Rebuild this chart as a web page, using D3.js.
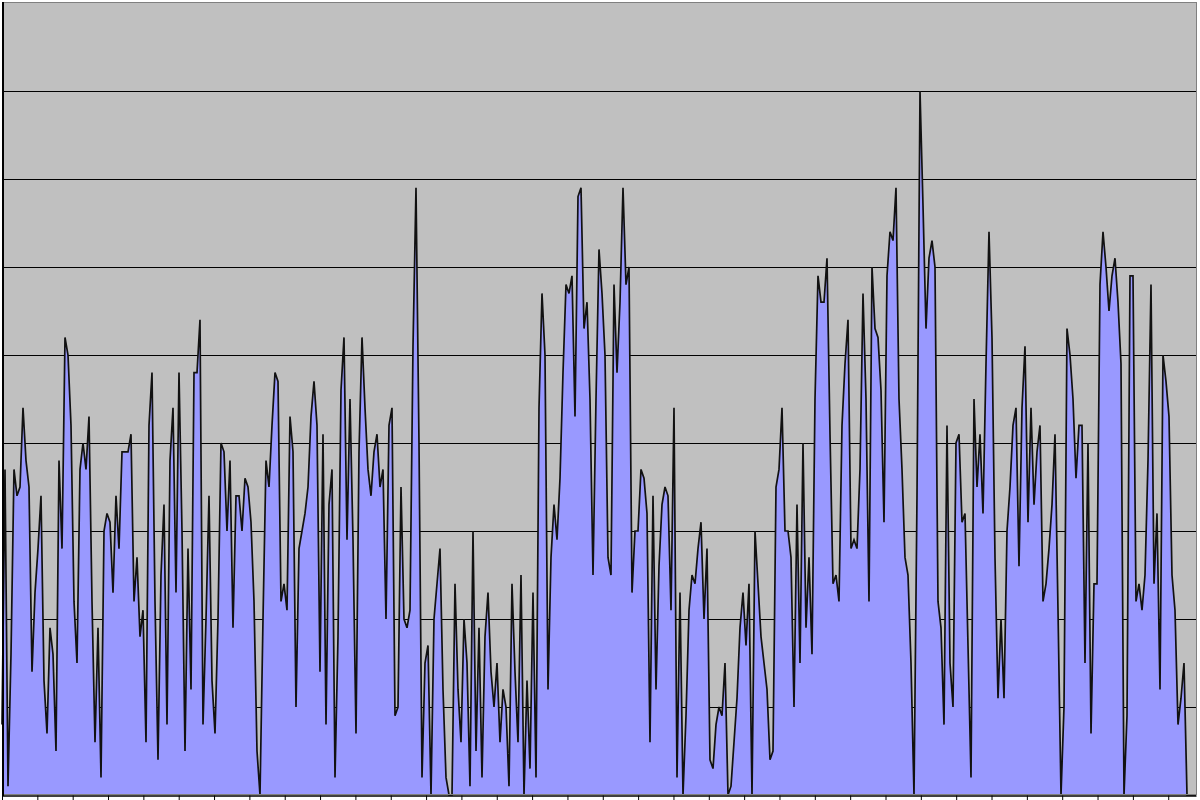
<!DOCTYPE html>
<html><head><meta charset="utf-8">
<script src="https://cdn.jsdelivr.net/npm/d3@7"></script>
<style>html,body{margin:0;padding:0;background:#fff;overflow:hidden}svg{display:block}</style>
</head><body>
<svg id="chart" width="1200" height="800"></svg>
<script>
// Series values (one value per category, evenly spaced)
const series = [
  8,37,1,16,37,34,35,44,38,35,14,23,28,34,13,7,19,16,5,38,28,52,50,42,22,15,37,40,37,43,22,6,19,
  2,30,32,31,23,34,28,39,39,39,41,22,27,18,21,6,42,48,22,4,25,33,8,38,44,23,48,30,5,28,12,48,48,54,
  8,20,34,13,7,20,40,39,30,38,19,34,34,30,36,35,31,22,5,0,20,38,35,42,48,47,22,24,21,43,39,10,28,
  30,32,35,43,47,42,14,41,8,33,37,2,18,46,52,29,45,29,7,39,52,44,37,34,39,41,35,37,20,42,44,9,10,
  35,20,19,21,51,69,40,2,15,17,0,20,24,28,12,2,0,0,24,12,6,20,15,1,30,5,19,2,18,23,14,10,15,6,
  12,10,1,24,14,6,25,0,13,3,23,2,44,57,50,12,27,33,29,36,48,58,57,59,43,68,69,53,56,45,25,45,62,
  57,50,27,25,58,48,56,69,58,60,23,30,30,37,36,32,6,34,12,26,33,35,34,21,44,2,23,0,9,21,25,24,28,
  31,20,28,4,3,8,10,9,15,0,1,6,11,19,23,17,24,0,30,24,18,15,12,4,5,35,37,44,30,30,27,10,33,15,
  40,19,27,16,45,59,56,56,61,41,24,25,22,42,49,54,28,29,28,37,57,45,22,60,53,52,46,31,59,64,63,69,45,
  37,27,25,15,0,34,80,67,53,61,63,60,22,19,8,42,15,10,40,41,31,32,17,2,45,35,41,32,49,64,52,27,11,
  20,11,30,35,42,44,26,44,51,31,44,33,39,42,22,24,28,33,41,21,0,10,53,50,45,36,42,42,15,40,7,24,24,58,
  64,60,55,59,61,56,49,0,9,59,59,22,24,21,25,38,58,24,32,12,50,47,43,25,21,8,11,15,0,0,0,0
];
// Value axis: gridlines (no labels shown)
const gridValues = [10,20,30,40,50,60,70,80];
const valueMax = 90;
// Category axis: a tick mark every ~11.78 categories (no labels shown)
const categoriesPerTick = 11.78;

(function () {
  const svg = d3.select('#chart');
  const pL = 2, pR = 1196, pT = 3, pB = 795;

  const x = d3.scaleLinear().domain([0, series.length - 1]).range([pL, pR]);
  const y = d3.scaleLinear().domain([0, valueMax]).range([pB, pT]);

  svg.append('rect')
    .attr('x', pL).attr('y', pT)
    .attr('width', pR - pL).attr('height', pB - pT)
    .attr('fill', '#c0c0c0');

  svg.append('g')
    .selectAll('line').data(gridValues).join('line')
    .attr('x1', pL).attr('x2', pR)
    .attr('y1', d => Math.round(y(d)) + 0.5).attr('y2', d => Math.round(y(d)) + 0.5)
    .attr('stroke', '#000').attr('stroke-width', 1)
    .attr('shape-rendering', 'crispEdges');

  const area = d3.area()
    .x((d, i) => x(i))
    .y0(y(0))
    .y1(d => y(d));
  svg.append('path')
    .datum(series)
    .attr('d', area)
    .attr('fill', '#9999ff');

  const line = d3.line()
    .x((d, i) => x(i))
    .y(d => y(d));
  svg.append('path')
    .datum(series)
    .attr('d', line)
    .attr('fill', 'none')
    .attr('stroke', '#111')
    .attr('stroke-width', 1.7)
    .attr('stroke-linejoin', 'miter');

  svg.append('rect')
    .attr('x', pL + 0.5).attr('y', pT - 0.5)
    .attr('width', pR - pL).attr('height', pB - pT)
    .attr('fill', 'none').attr('stroke', '#808080').attr('stroke-width', 1)
    .attr('shape-rendering', 'crispEdges');

  svg.append('line')
    .attr('x1', pL + 1).attr('x2', pL + 1)
    .attr('y1', pT - 1).attr('y2', pB + 1)
    .attr('stroke', '#000').attr('stroke-width', 2)
    .attr('shape-rendering', 'crispEdges');

  const tickVals = d3.range(0, series.length, categoriesPerTick);
  const xAxis = d3.axisBottom(x)
    .tickValues(tickVals)
    .tickSize(5)
    .tickSizeOuter(0)
    .tickFormat('');
  const gx = svg.append('g')
    .attr('transform', `translate(0,${pB + 0.5})`)
    .call(xAxis);
  gx.select('.domain').attr('stroke', '#000').attr('stroke-width', 1.5);
  gx.selectAll('.tick line').attr('stroke', '#000').attr('stroke-width', 1);
})();
</script>
</body></html>
